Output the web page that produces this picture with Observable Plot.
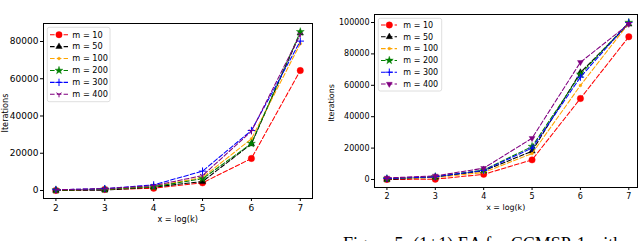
<!DOCTYPE html>
<html><head><meta charset="utf-8">
<script src="https://cdn.jsdelivr.net/npm/d3@7"></script>
<script src="https://cdn.jsdelivr.net/npm/@observablehq/plot@0.6"></script>
<style>
body{margin:0;width:640px;height:241px;overflow:hidden;background:#fff;position:relative;font-family:"DejaVu Sans",sans-serif;}
.c{position:absolute;top:0}
#cap{position:absolute;left:320px;top:222px}
</style></head><body>
<div id="left" class="c" style="left:0"></div>
<div id="right" class="c" style="left:320px"></div>
<svg id="cap" width="320" height="19"><text x="23" y="28" font-family="Liberation Serif" font-size="18" fill="#000">Figure 5: (1+1) EA for CCMSP-1 with</text></svg>
<script>
// ---- data ----
const xs = [2, 3, 4, 5, 6, 7];
const xTicks = [2, 3, 4, 5, 6, 7];
const seriesNames = ["m = 10", "m = 50", "m = 100", "m = 200", "m = 300", "m = 400"];
const seriesColors = ["#ff0000", "#000000", "#ffa500", "#008000", "#0000ff", "#800080"];
const leftYTicks = [0, 20000, 40000, 60000, 80000];
const rightYTicks = [0, 20000, 40000, 60000, 80000, 100000];
const xLabel = "x = log(k)";
const yLabel = "Iterations";

const leftM10  = [0, 500, 1200, 4100, 17200, 64400];
const leftM50  = [0, 200, 1800, 4800, 25000, 84500];
const leftM100 = [300, 700, 2200, 7000, 27700, 78800];
const leftM200 = [300, 700, 2000, 6300, 25200, 85200];
const leftM300 = [400, 1000, 3000, 10400, 32200, 80200];
const leftM400 = [400, 1000, 2600, 8000, 31800, 83800];

const rightM10  = [0, 200, 3300, 12500, 51600, 90900];
const rightM50  = [0, 1500, 5500, 18000, 68200, 98900];
const rightM100 = [500, 1200, 4500, 16500, 59900, 99500];
const rightM200 = [500, 1800, 6000, 21000, 67000, 100000];
const rightM300 = [600, 1700, 5800, 20000, 65200, 100000];
const rightM400 = [1000, 2300, 7200, 26300, 74700, 99000];

// ---- symbols ----
const triDown = {draw(ctx, size){const r = Math.sqrt(size/Math.PI)*1.25;
  ctx.moveTo(0,0);ctx.lineTo(0,r);ctx.moveTo(0,0);ctx.lineTo(-r*0.866,-r*0.5);ctx.moveTo(0,0);ctx.lineTo(r*0.866,-r*0.5);}};
const triangleDown = {draw(ctx, size){const y = -Math.sqrt(size/(Math.sqrt(3)*3));
  ctx.moveTo(0,-2*y);ctx.lineTo(-Math.sqrt(3)*y,y);ctx.lineTo(Math.sqrt(3)*y,y);ctx.closePath();}};

function chart(cfg){
  const marks = [
    Plot.frame({stroke:"#000", strokeWidth:1}),
    Plot.axisY({ticks: cfg.yTicks, tickSize:3, tickPadding:2, tickFormat: d => String(d), label:null, fontSize: cfg.tickFont}),
    Plot.axisX({ticks: xTicks, tickSize:3, tickPadding: cfg.xPad, tickFormat: d => String(d), label:null, fontSize: cfg.tickFont})
  ];
  cfg.series.forEach((vals, i) => {
    const rows = xs.map((x, j) => ({x, y: vals[j]}));
    const m = cfg.markers[i];
    marks.push(Plot.line(rows, {x:"x", y:"y", stroke: seriesColors[i], strokeWidth:1.05, strokeDasharray:"4.6,2.2"}));
    marks.push(Plot.dot(rows, {x:"x", y:"y", symbol: m.sym, r: m.r,
      fill: m.fill ? seriesColors[i] : "none", stroke: seriesColors[i], strokeWidth: m.fill ? 0.4 : 1.0}));
  });
  const svg = Plot.plot({
    width: 320, height: 241,
    marginLeft: cfg.ml, marginRight: cfg.mr, marginTop: cfg.mt, marginBottom: cfg.mb,
    x: {domain: cfg.xDomain},
    y: {domain: cfg.yDomain},
    style: {fontFamily: "DejaVu Sans", fontSize: cfg.tickFont+"px", color: "#000", background: "transparent", overflow: "visible"},
    marks
  });
  const s = d3.select(svg);
  // legend
  const L = cfg.legend;
  const g = s.append("g").attr("text-anchor", "start");
  g.append("rect").attr("x", L.x).attr("y", L.y).attr("width", L.w).attr("height", L.h)
    .attr("rx", 2).attr("fill", "#fff").attr("fill-opacity", 0.8).attr("stroke", "#d6d6d6").attr("stroke-width", 0.8);
  seriesNames.forEach((name, i) => {
    const y = L.row0 + i*L.dy;
    const m = cfg.markers[i];
    g.append("line").attr("x1", L.lx0).attr("x2", L.lx1).attr("y1", y).attr("y2", y)
      .attr("stroke", seriesColors[i]).attr("stroke-width", 1.05).attr("stroke-dasharray", "4.6,2.2");
    g.append("path").attr("d", d3.symbol(m.sym, m.r*m.r*Math.PI)()).attr("transform", `translate(${L.mx},${y})`)
      .attr("fill", m.fill ? seriesColors[i] : "none").attr("stroke", seriesColors[i]).attr("stroke-width", m.fill ? 0.4 : 1.0);
    g.append("text").attr("x", L.tx).attr("y", y).attr("dy", "0.35em").attr("text-anchor", "start")
      .attr("font-size", L.font).attr("fill", "#000").text(name);
  });
  // axis labels
  s.append("text").attr("x", cfg.xl[0]).attr("y", cfg.xl[1]).attr("text-anchor", "middle").attr("dy", "0.35em")
    .attr("font-size", cfg.labelFont).attr("fill", "#000").text(xLabel);
  s.append("text").attr("transform", `translate(${cfg.yl[0]},${cfg.yl[1]}) rotate(-90)`).attr("text-anchor", "middle").attr("dy", "0.35em")
    .attr("font-size", cfg.labelFont).attr("fill", "#000").text(yLabel);
  return svg;
}

document.getElementById("left").append(chart({
  series: [leftM10, leftM50, leftM100, leftM200, leftM300, leftM400],
  yTicks: leftYTicks, yDomain: [-4300, 89660], xDomain: [1.746, 7.25],
  ml: 43, mr: 8, mt: 23, mb: 43, tickFont: 9, xPad: 3, labelFont: 8.2,
  markers: [
    {sym: d3.symbolCircle, r: 3.2, fill: true},
    {sym: d3.symbolTriangle, r: 2.4, fill: true},
    {sym: d3.symbolCircle, r: 1.4, fill: true},
    {sym: d3.symbolStar, r: 2.5, fill: true},
    {sym: d3.symbolPlus, r: 2.5, fill: false},
    {sym: triDown, r: 2.4, fill: false}
  ],
  legend: {x: 47.3, y: 27.3, w: 62.7, h: 74.4, row0: 34.7, dy: 11.92, lx0: 50, lx1: 68, mx: 59, tx: 72.3, font: 8.2},
  xl: [177.7, 219], yl: [5.5, 113]
}));

document.getElementById("right").append(chart({
  series: [rightM10, rightM50, rightM100, rightM200, rightM300, rightM400],
  yTicks: rightYTicks, yDomain: [-5096, 105096], xDomain: [1.743, 7.18],
  ml: 54, mr: 3, mt: 14, mb: 54, tickFont: 8, xPad: 2.5, labelFont: 7.9,
  markers: [
    {sym: d3.symbolCircle, r: 3.2, fill: true},
    {sym: d3.symbolTriangle, r: 2.4, fill: true},
    {sym: d3.symbolCircle, r: 1.4, fill: true},
    {sym: d3.symbolStar, r: 2.5, fill: true},
    {sym: d3.symbolPlus, r: 2.5, fill: false},
    {sym: triangleDown, r: 2.2, fill: true}
  ],
  legend: {x: 58.3, y: 18.3, w: 63.4, h: 72.7, row0: 25, dy: 11.8, lx0: 61, lx1: 77, mx: 69.3, tx: 83.3, font: 8},
  xl: [185.7, 207], yl: [11, 103]
}));
</script>
</body></html>
